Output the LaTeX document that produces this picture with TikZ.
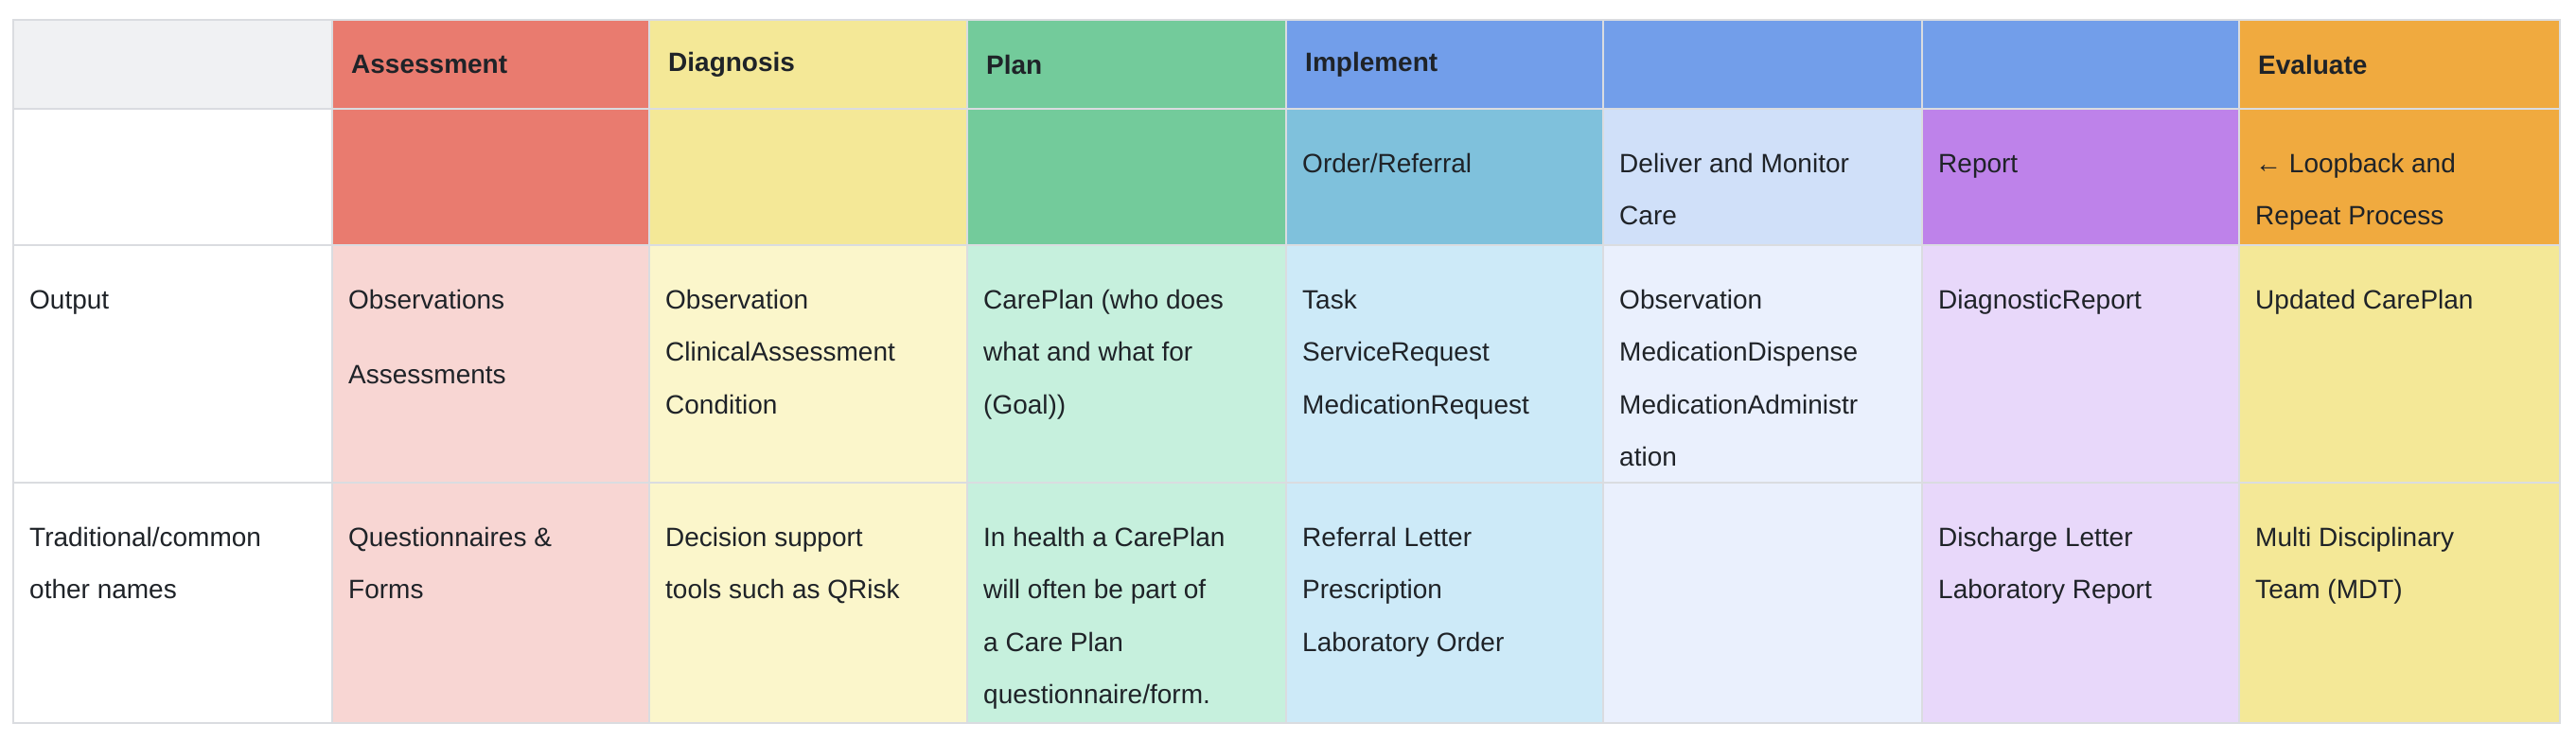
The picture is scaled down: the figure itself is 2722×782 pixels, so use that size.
\documentclass[tikz,border=0pt]{standalone}
\usepackage{fontspec}
\setmainfont{Liberation Sans}
\definecolor{grid}{HTML}{DADCE0}
\definecolor{hA}{HTML}{E97B6F}\definecolor{hD}{HTML}{F4E897}\definecolor{hP}{HTML}{73CB9B}
\definecolor{hI}{HTML}{729EEA}\definecolor{hE}{HTML}{F0AA3F}\definecolor{h0}{HTML}{F0F1F3}
\definecolor{sO}{HTML}{7FC1DC}\definecolor{sD}{HTML}{D0E0F9}\definecolor{sR}{HTML}{BE82EA}
\definecolor{bA}{HTML}{F8D6D3}\definecolor{bD}{HTML}{FBF6CB}\definecolor{bP}{HTML}{C6F0DD}
\definecolor{bO}{HTML}{CDEAF8}\definecolor{bM}{HTML}{EAF0FD}\definecolor{bR}{HTML}{E8D8FA}
\definecolor{ink}{HTML}{1F2328}
\tikzset{cellbox/.style={draw=grid,line width=2pt,inner sep=0pt,anchor=north west},
celltext/.style={anchor=north west,inner sep=0pt,text=ink,font=\fontsize{28}{55.5}\selectfont,align=left}}
\newcommand{\mycell}[7]{% name x1 y1 x2 y2 color text
 \path[cellbox,fill=#6] (#2,#3) rectangle (#4,#5);
 \node[celltext] (#1) at (#2+17,#3+28) {\strut #7};}
\newcommand{\myhead}[6]{%
 \path[cellbox,fill=#6] (#2,21) rectangle (#4,115);
 \node[celltext,anchor=west,font=\fontsize{28}{34}\selectfont\bfseries] (#1) at (#2+20,68) {#5};}
\begin{document}
\begin{tikzpicture}[x=1pt,y=-1pt]
\useasboundingbox[fill=white] (0,0) rectangle (2722,782);
\myhead{h0}{14}{}{351}{}{h0}
\myhead{h1}{351}{}{686}{Assessment}{hA}
\myhead{h2}{686}{}{1022}{Diagnosis}{hD}
\myhead{h3}{1022}{}{1359}{Plan}{hP}
\myhead{h4}{1359}{}{1694}{Implement}{hI}
\myhead{h5}{1694}{}{2031}{}{hI}
\myhead{h6}{2031}{}{2366}{}{hI}
\myhead{h7}{2366}{}{2705}{Evaluate}{hE}
% row 2
\mycell{s0}{14}{115}{351}{259}{white}{}
\mycell{s1}{351}{115}{686}{259}{hA}{}
\mycell{s2}{686}{115}{1022}{259}{hD}{}
\mycell{s3}{1022}{115}{1359}{259}{hP}{}
\mycell{s4}{1359}{115}{1694}{259}{sO}{Order/Referral}
\mycell{s5}{1694}{115}{2031}{259}{sD}{Deliver and Monitor\\Care}
\mycell{s6}{2031}{115}{2366}{259}{sR}{Report}
\mycell{s7}{2366}{115}{2705}{259}{hE}{← Loopback and\\Repeat Process}
% row 3
\mycell{o0}{14}{259}{351}{510}{white}{Output}
\mycell{o1}{351}{259}{686}{510}{bA}{Observations\\[24pt]Assessments}
\mycell{o2}{686}{259}{1022}{510}{bD}{Observation\\ClinicalAssessment\\Condition}
\mycell{o3}{1022}{259}{1359}{510}{bP}{CarePlan (who does\\what and what for\\(Goal))}
\mycell{o4}{1359}{259}{1694}{510}{bO}{Task\\ServiceRequest\\MedicationRequest}
\mycell{o5}{1694}{259}{2031}{510}{bM}{Observation\\MedicationDispense\\MedicationAdministr\\ation}
\mycell{o6}{2031}{259}{2366}{510}{bR}{DiagnosticReport}
\mycell{o7}{2366}{259}{2705}{510}{hD}{Updated CarePlan}
% row 4
\mycell{t0}{14}{510}{351}{764}{white}{Traditional/common\\other names}
\mycell{t1}{351}{510}{686}{764}{bA}{Questionnaires \&\\Forms}
\mycell{t2}{686}{510}{1022}{764}{bD}{Decision support\\tools such as QRisk}
\mycell{t3}{1022}{510}{1359}{764}{bP}{In health a CarePlan\\will often be part of\\a Care Plan\\questionnaire/form.}
\mycell{t4}{1359}{510}{1694}{764}{bO}{Referral Letter\\Prescription\\Laboratory Order}
\mycell{t5}{1694}{510}{2031}{764}{bM}{}
\mycell{t6}{2031}{510}{2366}{764}{bR}{Discharge Letter\\Laboratory Report}
\mycell{t7}{2366}{510}{2705}{764}{hD}{Multi Disciplinary\\Team (MDT)}
\end{tikzpicture}
\end{document}
